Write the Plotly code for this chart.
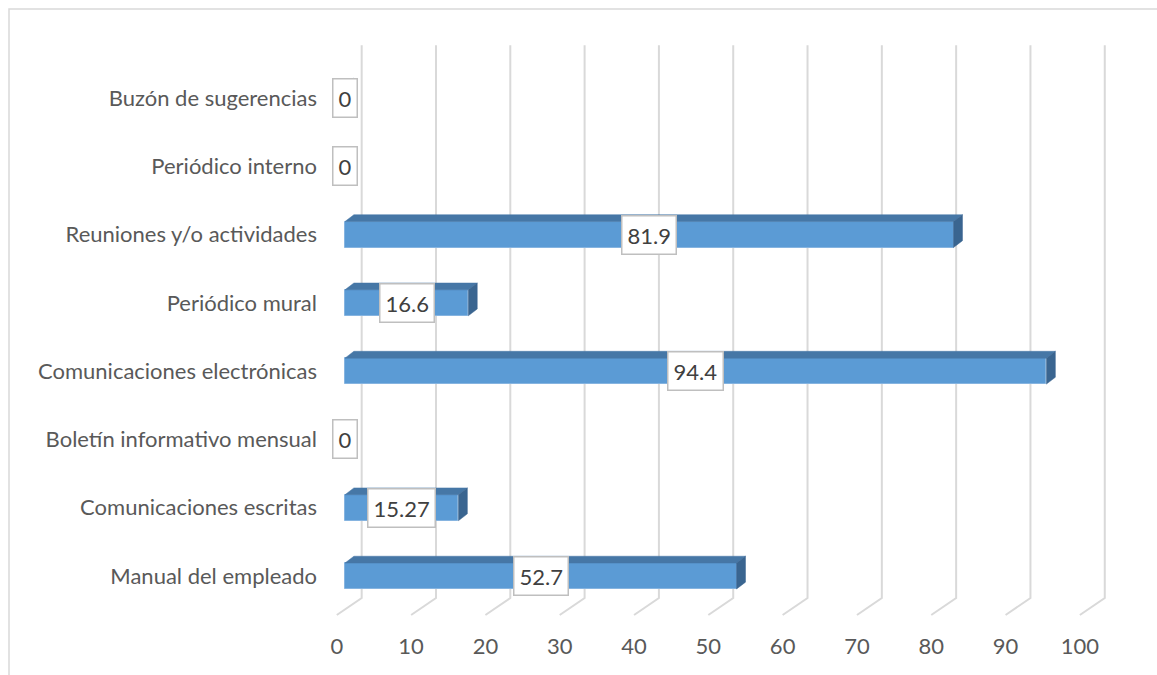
import plotly.graph_objects as go

# ---- data (bottom to top) ----
categories = ["Manual del empleado", "Comunicaciones escritas", "Boletín informativo mensual",
              "Comunicaciones electrónicas", "Periódico mural", "Reuniones y/o actividades",
              "Periódico interno", "Buzón de sugerencias"]
values = [52.7, 15.27, 0, 94.4, 16.6, 81.9, 0, 0]
x_ticks = [0, 10, 20, 30, 40, 50, 60, 70, 80, 90, 100]
x_tick_labels = [str(t) for t in x_ticks]

# ---- 3D look geometry (data units) ----
BAR_W = 0.38          # front face thickness (category units)
DEPTH_X = 1.2         # bar depth offset in value units
DEPTH_Y = 0.10        # bar depth offset in category units
GRID_BACK = 2.25      # back wall shift of gridlines
GRID_FRONT = -1.1     # floor front shift
Y_BACK_BOTTOM = -0.322
Y_FRONT = -0.571
Y_TOP = 7.77

FONT = "Lato"
ypos = list(range(len(categories)))

fig = go.Figure()

# gridlines on back wall + floor diagonals (below traces)
for t in x_ticks:
    xb = t + GRID_BACK
    xf = t + GRID_FRONT
    fig.add_shape(type="path", xref="x", yref="y", layer="below",
                  path=f"M {xb},{Y_TOP} L {xb},{Y_BACK_BOTTOM} L {xf},{Y_FRONT}",
                  line=dict(color="#d9d9d9", width=2))

# top and end faces
tx, ty = [], []
ex, ey = [], []
for v, y in zip(values, ypos):
    top = y + BAR_W / 2
    bot = y - BAR_W / 2
    tx += [0, v, v + DEPTH_X, DEPTH_X, 0, None]
    ty += [top, top, top + DEPTH_Y, top + DEPTH_Y, top, None]
    if v > 0:
        ex += [v, v, v + DEPTH_X, v + DEPTH_X, v, None]
        ey += [bot, top, top + DEPTH_Y, bot + DEPTH_Y, bot, None]

fig.add_trace(go.Scatter(x=tx, y=ty, mode="lines", fill="toself", fillcolor="#4677a6",
                         line=dict(color="#4677a6", width=0.5), hoverinfo="skip", showlegend=False))
fig.add_trace(go.Scatter(x=ex, y=ey, mode="lines", fill="toself", fillcolor="#3a6590",
                         line=dict(color="#3a6590", width=0.5), hoverinfo="skip", showlegend=False))

# front faces
fig.add_trace(go.Bar(x=values, y=ypos, orientation="h", width=BAR_W, base=0,
                     marker=dict(color="#5b9bd5", line=dict(color="#86b4e0", width=1)),
                     hoverinfo="skip", showlegend=False))

# data labels
for v, y in zip(values, ypos):
    fig.add_annotation(x=v / 2, y=y, text=f"{v:g}", showarrow=False,
                       font=dict(family=FONT, size=22, color="#404040"),
                       bgcolor="white", bordercolor="#bfbfbf", borderwidth=1.5, borderpad=5)

# chart area border
fig.add_shape(type="rect", xref="paper", yref="paper", x0=-0.38875, x1=1.1, y0=-0.1, y1=1.0527,
              line=dict(color="#d9d9d9", width=1.5), fillcolor="rgba(0,0,0,0)", layer="below")

fig.update_layout(
    width=1157, height=675,
    margin=dict(l=320, r=37, t=40, b=47),
    plot_bgcolor="white", paper_bgcolor="white",
    bargap=0,
    font=dict(family=FONT, size=22, color="#595959"),
    xaxis=dict(range=[-3.36, 104.3], tickvals=[t + GRID_FRONT for t in x_ticks], ticktext=x_tick_labels,
               showgrid=False, zeroline=False, showline=False, ticks="", ticklabelstandoff=3,
               fixedrange=True),
    yaxis=dict(range=[-0.761, 7.848], tickvals=ypos, ticktext=categories,
               showgrid=False, zeroline=False, showline=False, ticks="", ticklabelstandoff=2,
               fixedrange=True),
)

fig.write_html("out.html")
